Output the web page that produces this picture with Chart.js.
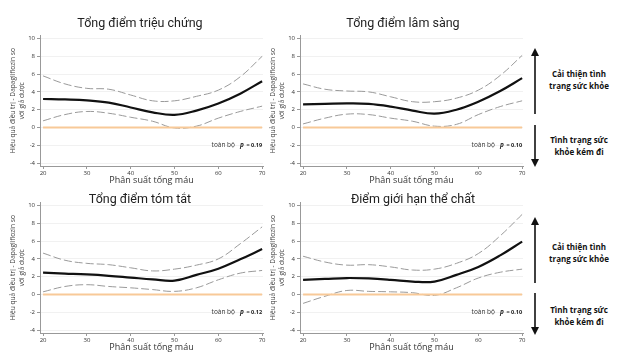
<!DOCTYPE html>
<html>
<head>
<meta charset="utf-8">
<script src="https://cdn.jsdelivr.net/npm/chart.js"></script>
<style>
  html, body { margin: 0; padding: 0; background: #fff; }
  #wrap { position: relative; width: 617px; height: 364px; overflow: hidden; font-family: 'Open Sans', 'Noto Sans', sans-serif; }
  .panel { position: absolute; width: 268px; height: 158px; }
  .ttl { position: absolute; font-family: Roboto, 'Open Sans', sans-serif; font-size: 12.5px; color: #222; white-space: nowrap; transform: translate(-50%, -50%); z-index: 2; }
  .note { position: absolute; font-size: 8px; font-weight: 700; color: #111; text-align: center; line-height: 12px; transform: translateX(-50%); white-space: nowrap; }
  svg { position: absolute; left: 0; top: 0; }
</style>
</head>
<body>
<div id="wrap">
  <div class="panel" style="left:0;top:30px"><canvas id="c0"></canvas></div>
  <div class="panel" style="left:260px;top:30px"><canvas id="c1"></canvas></div>
  <div class="panel" style="left:0;top:197px"><canvas id="c2"></canvas></div>
  <div class="panel" style="left:260px;top:197px"><canvas id="c3"></canvas></div>

  <div class="ttl" style="left:140px;top:22px">Tổng điểm triệu chứng</div>
  <div class="ttl" style="left:403px;top:22px">Tổng điểm lâm sàng</div>
  <div class="ttl" style="left:140px;top:198px">Tổng điểm tóm tắt</div>
  <div class="ttl" style="left:413px;top:198px">Điểm giới hạn thể chất</div>

  <div class="note" style="left:579px;top:68px">Cải thiện tình<br>trạng sức khỏe</div>
  <div class="note" style="left:579px;top:134px">Tình trạng sức<br>khỏe kém đi</div>
  <div class="note" style="left:579px;top:241px">Cải thiện tình<br>trạng sức khỏe</div>
  <div class="note" style="left:579px;top:304px">Tình trạng sức<br>khỏe kém đi</div>

  <svg width="617" height="364">
    <defs>
      <marker id="ah" viewBox="0 0 10 10" refX="5" refY="5" markerWidth="5" markerHeight="5" orient="auto-start-reverse">
        <path d="M0,0 L10,5 L0,10 z" fill="#111"/>
      </marker>
    </defs>
    <line x1="535" y1="114" x2="535" y2="52" stroke="#111" stroke-width="1.6" marker-end="url(#ah)"/>
    <line x1="535" y1="125" x2="535" y2="163" stroke="#111" stroke-width="1.6" marker-end="url(#ah)"/>
    <line x1="535" y1="283" x2="535" y2="221" stroke="#111" stroke-width="1.6" marker-end="url(#ah)"/>
    <line x1="535" y1="293" x2="535" y2="331" stroke="#111" stroke-width="1.6" marker-end="url(#ah)"/>
  </svg>
</div>

<script>
const ef = [20, 25, 30, 35, 40, 45, 50, 55, 60, 65, 70];
const xTicks = [20, 30, 40, 50, 60, 70];
const yTicks = [-4, -2, 0, 2, 4, 6, 8, 10];

// Tổng điểm triệu chứng
const sym = [3.2, 3.15, 3.05, 2.8, 2.25, 1.7, 1.42, 1.9, 2.7, 3.8, 5.2];
const symHi = [5.8, 4.9, 4.4, 4.3, 3.65, 3.0, 3.0, 3.5, 4.2, 5.7, 8.0];
const symLo = [0.75, 1.45, 1.8, 1.6, 1.15, 0.7, -0.05, 0.15, 1.05, 1.8, 2.4];

// Tổng điểm lâm sàng
const cli = [2.6, 2.65, 2.7, 2.65, 2.35, 1.9, 1.55, 2.0, 2.9, 4.1, 5.55];
const cliHi = [4.9, 4.3, 4.1, 4.0, 3.45, 2.9, 2.9, 3.3, 4.2, 5.85, 8.1];
const cliLo = [0.4, 1.05, 1.5, 1.45, 1.05, 0.7, 0.15, 0.35, 1.45, 2.35, 3.0];

// Tổng điểm tóm tắt
const sum = [2.45, 2.35, 2.25, 2.1, 1.9, 1.7, 1.55, 2.2, 2.9, 3.95, 5.1];
const sumHi = [4.65, 3.85, 3.5, 3.35, 3.0, 2.65, 2.85, 3.3, 4.0, 5.7, 7.6];
const sumLo = [0.3, 0.9, 1.1, 0.9, 0.75, 0.55, 0.35, 0.75, 1.65, 2.4, 2.7];

// Điểm giới hạn thể chất
const phy = [1.65, 1.75, 1.85, 1.8, 1.65, 1.45, 1.45, 2.2, 3.1, 4.4, 5.95];
const phyHi = [4.3, 3.65, 3.3, 3.35, 3.1, 2.75, 2.85, 3.5, 4.6, 6.6, 9.0];
const phyLo = [-1.0, -0.2, 0.45, 0.35, 0.3, 0.2, -0.1, 0.75, 1.85, 2.5, 2.85];

const pValues = ['0.19', '0.10', '0.12', '0.10'];
const overallLabel = 'toàn bộ';
const xTitle = 'Phân suất tống máu';
const yTitle = ['Hiệu quả điều trị - Dapagliflozin so', 'với giả dược'];

const FONT = "'Open Sans', 'Noto Sans', sans-serif";
const pts = (ys) => ef.map((x, i) => ({ x, y: ys[i] }));

const pNote = {
  id: 'pNote',
  afterDatasetsDraw(chart, args, opts) {
    const { ctx, scales } = chart;
    const x = scales.x.getPixelForValue(70);
    const y = scales.y.getPixelForValue(-2);
    ctx.save();
    ctx.textBaseline = 'middle';
    ctx.textAlign = 'right';
    ctx.fillStyle = '#222';
    ctx.font = '700 5.5px ' + FONT;
    const val = '= ' + opts.p;
    ctx.fillText(val, x, y);
    const w1 = ctx.measureText(val).width;
    ctx.font = 'italic 700 6.5px ' + FONT;
    ctx.fillText('p ', x - w1 - 1, y);
    const w2 = ctx.measureText('p ').width;
    ctx.font = '6.5px ' + FONT;
    ctx.fillStyle = '#333';
    ctx.fillText(overallLabel, x - w1 - w2 - 6, y);
    ctx.restore();
  },
};

function mk(id, mid, hi, lo, p) {
  const el = document.getElementById(id);
  new Chart(el, {
    type: 'line',
    data: {
      datasets: [
        { data: [{ x: 20, y: 0 }, { x: 70, y: 0 }], borderColor: '#f8c998', borderWidth: 2, pointRadius: 0 },
        { data: pts(hi), borderColor: '#9a9a9a', borderWidth: 1, borderDash: [8, 3], pointRadius: 0, tension: 0.4 },
        { data: pts(lo), borderColor: '#9a9a9a', borderWidth: 1, borderDash: [8, 3], pointRadius: 0, tension: 0.4 },
        { data: pts(mid), borderColor: '#111', borderWidth: 2.2, pointRadius: 0, tension: 0.4 },
      ],
    },
    options: {
      responsive: true,
      maintainAspectRatio: false,
      animation: false,
      layout: { padding: { top: 3, right: 5, left: 9, bottom: 0 } },
      plugins: { legend: { display: false }, tooltip: { enabled: false }, pNote: { p } },
      scales: {
        x: {
          type: 'linear',
          min: 19.3,
          max: 70.2,
          afterBuildTicks: (s) => { s.ticks = xTicks.map((v) => ({ value: v })); },
          afterFit: (s) => { s.height = 22; },
          ticks: { color: '#333', font: { size: 6, family: FONT }, padding: 1, maxRotation: 0 },
          grid: { drawOnChartArea: false, tickColor: '#999', tickLength: 3 },
          border: { color: '#999' },
          title: { display: true, text: xTitle, color: '#333', font: { size: 9, family: FONT }, padding: { top: 0, bottom: 2 } },
        },
        y: {
          min: -4.33,
          max: 10.33,
          afterBuildTicks: (s) => { s.ticks = yTicks.map((v) => ({ value: v })); },
          afterFit: (s) => { s.width = 31; },
          ticks: { color: '#333', font: { size: 6, family: FONT }, padding: 2 },
          grid: { color: '#f1f1f1', tickColor: '#999', tickLength: 3 },
          border: { color: '#999' },
          title: { display: true, text: yTitle, color: '#444', font: { size: 6.6, family: FONT, lineHeight: 1.35 }, padding: { top: 0, bottom: 0 } },
        },
      },
    },
    plugins: [pNote],
  });
}

mk('c0', sym, symHi, symLo, pValues[0]);
mk('c1', cli, cliHi, cliLo, pValues[1]);
mk('c2', sum, sumHi, sumLo, pValues[2]);
mk('c3', phy, phyHi, phyLo, pValues[3]);
</script>
</body>
</html>
